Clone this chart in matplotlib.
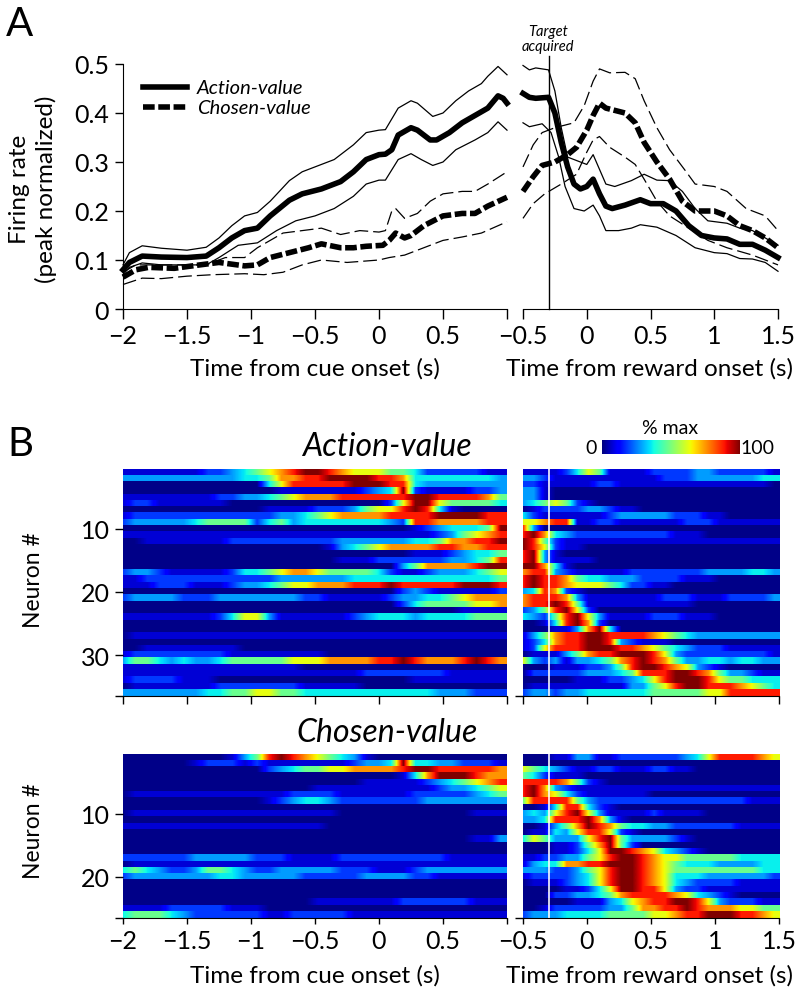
import numpy as np
import matplotlib
matplotlib.use("Agg")
import matplotlib.pyplot as plt
from matplotlib.lines import Line2D

FONT = ['Lato', 'DejaVu Sans']
plt.rcParams['font.family'] = FONT
plt.rcParams['axes.unicode_minus'] = True

# ---------- Panel A data ----------
cue_av_mean_t = [-2,-1.95,-1.85,-1.7,-1.5,-1.35,-1.25,-1.15,-1.05,-.95,-.85,-.7,-.6,-.45,-.3,-.2,-.1,0,.05,.1,.15,.25,.3,.4,.45,.55,.65,.75,.85,.93,.97,1.0]
cue_av_mean = [.08,.095,.108,.106,.105,.108,.125,.145,.16,.165,.19,.222,.235,.245,.26,.28,.305,.315,.316,.325,.355,.37,.365,.345,.345,.36,.38,.395,.41,.435,.43,.42]
cue_av_up_t = [-2,-1.95,-1.85,-1.7,-1.5,-1.35,-1.25,-1.15,-1.05,-.95,-.85,-.7,-.6,-.5,-.35,-.2,-.1,0,.05,.15,.25,.3,.42,.5,.6,.7,.8,.85,.93,1.0]
cue_av_up = [.09,.115,.129,.124,.12,.126,.145,.17,.19,.197,.22,.262,.28,.29,.305,.335,.36,.365,.366,.41,.425,.42,.393,.4,.425,.445,.46,.475,.495,.478]
cue_av_lo_t = [-2,-1.95,-1.85,-1.7,-1.5,-1.35,-1.25,-1.1,-.95,-.8,-.65,-.5,-.35,-.2,-.1,0,.05,.15,.25,.33,.42,.5,.6,.75,.85,.93,1.0]
cue_av_lo = [.07,.085,.094,.09,.09,.09,.105,.13,.135,.16,.18,.19,.205,.23,.255,.263,.263,.305,.317,.305,.293,.3,.325,.345,.36,.382,.365]
cue_cv_mean_t = [-2,-1.9,-1.8,-1.6,-1.4,-1.25,-1.05,-.95,-.85,-.7,-.55,-.45,-.3,-.2,-.1,.03,.08,.13,.2,.25,.35,.5,.65,.75,.85,1.0]
cue_cv_mean = [.065,.08,.085,.083,.09,.095,.088,.09,.105,.115,.125,.133,.125,.125,.128,.13,.14,.155,.145,.15,.17,.19,.195,.195,.21,.228]
cue_cv_up_t = [-2,-1.9,-1.6,-1.35,-1.2,-1.05,-.95,-.85,-.75,-.6,-.45,-.3,-.15,0,.05,.1,.13,.2,.3,.4,.5,.65,.75,.85,1.0]
cue_cv_up = [.075,.09,.09,.09,.105,.105,.125,.14,.155,.16,.165,.152,.16,.157,.16,.2,.205,.185,.195,.22,.235,.24,.24,.255,.28]
cue_cv_lo_t = [-2,-1.85,-1.7,-1.5,-1.3,-1.05,-.9,-.75,-.6,-.45,-.25,0,.08,.2,.35,.5,.65,.8,1.0]
cue_cv_lo = [.05,.063,.062,.067,.07,.072,.07,.075,.09,.1,.095,.1,.105,.11,.125,.14,.147,.155,.178]

rew_av_mean_t = [-.5,-.45,-.4,-.3,-.25,-.2,-.15,-.1,-.05,0,.05,.1,.15,.2,.3,.42,.5,.6,.7,.8,.9,1.0,1.1,1.2,1.3,1.4,1.5]
rew_av_mean = [.44,.432,.43,.432,.4,.34,.29,.255,.245,.25,.265,.235,.21,.205,.212,.223,.215,.215,.2,.17,.15,.145,.143,.132,.132,.12,.105]
rew_av_up_t = [-.5,-.45,-.4,-.3,-.25,-.2,-.15,-.05,0,.05,.1,.15,.22,.35,.45,.55,.65,.75,.85,.95,1.1,1.2,1.3,1.4,1.5]
rew_av_up = [.497,.488,.492,.488,.445,.37,.31,.3,.295,.315,.285,.255,.25,.262,.275,.263,.262,.24,.205,.18,.175,.165,.16,.145,.13]
rew_av_lo_t = [-.5,-.45,-.35,-.28,-.22,-.17,-.1,-.02,.05,.1,.15,.25,.35,.42,.55,.7,.85,1.0,1.1,1.2,1.3,1.4,1.5]
rew_av_lo = [.38,.372,.378,.36,.31,.25,.205,.2,.212,.19,.16,.16,.165,.172,.167,.15,.125,.115,.113,.103,.102,.095,.077]
rew_cv_mean_t = [-.5,-.42,-.35,-.25,-.15,-.08,0,.05,.1,.15,.3,.38,.45,.55,.65,.75,.85,1.0,1.1,1.2,1.3,1.4,1.5]
rew_cv_mean = [.24,.27,.293,.3,.315,.33,.365,.395,.42,.41,.4,.38,.34,.3,.265,.22,.2,.2,.19,.17,.16,.145,.125]
rew_cv_up_t = [-.5,-.42,-.35,-.25,-.1,-.02,.05,.1,.18,.3,.38,.45,.55,.65,.78,.85,1.0,1.1,1.25,1.4,1.5]
rew_cv_up = [.29,.335,.36,.37,.38,.415,.465,.49,.482,.483,.47,.425,.37,.325,.28,.255,.25,.24,.205,.19,.16]
rew_cv_lo_t = [-.5,-.42,-.33,-.2,-.08,0,.05,.1,.18,.3,.38,.45,.55,.65,.8,.95,1.1,1.3,1.5]
rew_cv_lo = [.185,.215,.235,.255,.275,.32,.345,.352,.33,.31,.295,.265,.22,.19,.165,.14,.125,.11,.09]

time_ticks_cue = [-2,-1.5,-1,-.5,0,.5,1]
time_labels_cue = ['\u22122','\u22121.5','\u22121','\u22120.5','0','0.5','']
time_ticks_rew = [-.5,0,.5,1,1.5]
time_labels_rew = ['\u22120.5','0','0.5','1','1.5']
rate_ticks = [0,.1,.2,.3,.4,.5]
rate_labels = ['0','0.1','0.2','0.3','0.4','0.5']
target_time = -0.3

# ---------- Panel B data: each digit is a colour step ----------
O8 = '00000000 '
action_cue = [
'11111112 23456789 98766655 42222211','33333333 33445778 89999887 44444443','00000000 00004688 88899988 43333333',
'00000000 00000111 11112349 21111223','11111111 22334567 77888888 99888875','12211111 10000000 00000026 99655554',
'00000000 00001111 22235668 98410000','12222222 22222334 56777788 88999988','23333345 55524534 44444432 88777788',
O8*3+'12344459','11111111 11111111 11111111 11235678','00111111 12222222 22333333 44577889',
O8*2+'01345677 77887788',O8*3+'11123445','00000000 00000000 00111222 22233458','00000000 00000000 00000003 57777899',
'23321111 12445677 65555421 12333456','11222222 22222333 33344444 44444445','11122211 12334566 77788898 88889998',
O8*2+'00000002 32111112','23333222 33333332 21111123 34456777',O8*2+'00000002 45555667',O8*3+'00001111',
'11111111 24663111 11123444 34444555',O8*4,O8*4,'01111111 11111111 11111111 11111111',O8*4,
'00111111 11000000 00000000 00000000','12222222 21111111 10000000 00000000','35543433 45555566 67777889 87778987',
'11111111 11111110 00000000 00000000','11111111 11111111 11112222 22211111','12222111 00000000 00000000 11111111',
'01111111 22222221 11110000 00000000','33333334 45566554 44444444 44333222']
action_rew = [
'11112465 11112222 33222221','33211111 11111222 33333344','22111112 21111111 11111110','33100000 00000000 00000000',
'33100000 00000000 00000000','34565210 00000000 00000000','01222233 21100000 00000000','42111111 23333322 21100000',
'66788112 21111112 22111111','83000000 00000000 00000000','89743222 22222211 10000000','98521111 11111111 11111111',
'98621100 00000000 00000000','89310000 00000000 00000000','89311110 00000000 00000000','99741000 00000000 00000000',
'78832111 11222222 23333443','89887544 33322221 11000000','89887666 54221100 00000000','34872100 00000000 00000000',
'78887311 11111222 11122223','78898511 11111111 00000000','23589620 00000000 00000000','43258963 11112221 11000000',
'00148972 00000000 00000000','00011379 40000000 00000000','13578899 88887654 33333333','12478899 83211100 00000000',
'12688899 98876543 22211111','01113578 89998632 22222221','63231334 57898753 34434433','00011122 35899876 32100000',
'02222233 34588899 87533211','00000111 22346899 98655444','01111111 11335689 98887654','23323344 44445555 56688888']
chosen_cue = [
'00000000 01358987 65431000 00000000','00000012 22121111 11123349 44332221','00000000 00002345 56677778 99888887',
O8*2+'00000001 47999877',O8*2+'00001111 12345678',O8*2+'11111111 11233456','01111111 11111122 22111111 22222345',
'00000000 00001234 43222222 23333333',O8*4,'01111111 11111111 11000000 00000111',O8*4,'11111111 11111111 10000000 00000000',
O8*4,O8*3+'00000113',O8*4,O8*4,'22222233 33322211 11222222 22211111','01111111 11111111 11111111 11111111',
'45432235 54322333 33222111 23333333','23333333 44333332 22223333 22111111',O8*4,O8*4,O8*4,
O8*2+'11111112 22222111','11112222 21110000 00000000 00000000','45554322 22221122 22211111 11111111']
chosen_rew = [
'00011331 12222223 46888876',O8*3,'65432112 21112211 00000000','54211100 00000000 00000000','88887521 00000000 00000000',
'89732111 11111111 11111111','89764211 11110000 00000000','58888532 22222222 22222111','00148842 10000000 00000000',
'34368963 11112111 10000000','33488897 31000000 00000000','00135798 75443322 22221111','01143688 62100000 00000000',
'46533368 95333321 00000000','00011257 95200000 00000000','00011246 99876432 10000000','11223356 89987665 55554444',
'13447788 99987654 44333344','33322356 89987655 55555544','12222346 89987644 43333332','01112346 89987643 22221111',
'00001124 69988632 21111111','00022334 57888876 43210000','00000111 34678899 86322211','00122222 33577889 87776655',
'23334444 55556678 89998876']
colour_steps = [0.01,.075,.18,.28,.36,.48,.63,.75,.88,1.0]
neuron_ticks = [10,20,30]
neuron_ticks_chosen = [10,20]

W, H = 800, 995
fig = plt.figure(figsize=(W/100, H/100), dpi=100, facecolor='white')

def axpx(l, t, r, b):
    return fig.add_axes([l/W, 1-b/H, (r-l)/W, (b-t)/H])

def tx(x, y, s, **kw):
    kw.setdefault('ha', 'center'); kw.setdefault('va', 'center')
    return fig.text(x/W, 1-y/H, s, **kw)

TICK = 18; LAB = 17.5
def style(ax):
    for s in ('top', 'right'):
        ax.spines[s].set_visible(False)
    ax.patch.set_alpha(0)

# ---------- Panel A ----------
ax1 = axpx(123, 65, 507, 310)
ax2 = axpx(523, 65, 778, 310)
thin_d = (0, (11, 4)); thick_d = (0, (2.1, 0.65))
THICK = 4.0
def traces(ax, av, cv):
    for t, y in av[1:]:
        ax.plot(t, y, color='k', lw=0.9, clip_on=False)
    for t, y in cv[1:]:
        ax.plot(t, y, color='k', lw=0.9, ls=thin_d, clip_on=False)
    ax.plot(*av[0], color='k', lw=THICK, solid_joinstyle='round', clip_on=False)
    ax.plot(*cv[0], color='k', lw=THICK, ls=thick_d, dash_capstyle='butt', clip_on=False)
traces(ax1, [(cue_av_mean_t,cue_av_mean),(cue_av_up_t,cue_av_up),(cue_av_lo_t,cue_av_lo)],
       [(cue_cv_mean_t,cue_cv_mean),(cue_cv_up_t,cue_cv_up),(cue_cv_lo_t,cue_cv_lo)])
traces(ax2, [(rew_av_mean_t,rew_av_mean),(rew_av_up_t,rew_av_up),(rew_av_lo_t,rew_av_lo)],
       [(rew_cv_mean_t,rew_cv_mean),(rew_cv_up_t,rew_cv_up),(rew_cv_lo_t,rew_cv_lo)])
ax1.set_xlim(-2, 1); ax1.set_ylim(0, .5)
ax2.set_xlim(-.5, 1.5); ax2.set_ylim(0, .5)
for ax in (ax1, ax2):
    style(ax)
    ax.tick_params(axis='x', length=7, width=1, labelsize=TICK, pad=4)
    ax.tick_params(axis='y', length=6, width=1, labelsize=TICK, pad=4)
ax1.set_xticks(time_ticks_cue, time_labels_cue)
ax1.set_yticks(rate_ticks, rate_labels)
ax2.set_xticks(time_ticks_rew, time_labels_rew)
ax2.set_yticks([])
ax2.spines['left'].set_visible(False)
ax2.plot([target_time]*2, [0, .516], color='k', lw=1, clip_on=False)

tx(548, 39.5, 'Target\nacquired', fontsize=10.5, style='italic', linespacing=1.15)
tx(315, 369, 'Time from cue onset (s)', fontsize=LAB)
tx(649, 369, 'Time from reward onset (s)', fontsize=LAB)
tx(33, 189, 'Firing rate\n(peak normalized)', fontsize=LAB, rotation=90, linespacing=1.25)
tx(20, 24, 'A', fontsize=29)
tx(20, 445, 'B', fontsize=29)

fig.add_artist(Line2D([143/W, 187/W], [1-88/H]*2, color='k', lw=THICK))
fig.add_artist(Line2D([143/W, 187/W], [1-108/H]*2, color='k', lw=THICK, ls=thick_d, dash_capstyle='butt'))
tx(197, 88, 'Action-value', fontsize=14.5, style='italic', ha='left')
tx(197, 108, 'Chosen-value', fontsize=14.5, style='italic', ha='left')

# ---------- Panel B ----------
def heat(ax, rows, t0, t1):
    for i, r in enumerate(rows):
        vals = [colour_steps[int(c)] for c in r.replace(' ', '')]
        n = len(vals)
        dt = (t1 - t0) / (n - 0.5)
        ax.imshow(np.array([vals]), cmap='jet', vmin=0, vmax=1, aspect='auto',
                  interpolation='bilinear', extent=(t0 - dt/2, t1, i + 1.5, i + 0.5))
    ax.set_xlim(t0, t1); ax.set_ylim(len(rows) + .5, .5)

panels = [
    (axpx(123, 470, 507, 697), action_cue, -2, 1, time_ticks_cue),
    (axpx(523, 470, 779, 697), action_rew, -.5, 1.5, time_ticks_rew),
    (axpx(123, 755, 507, 919), chosen_cue, -2, 1, time_ticks_cue),
    (axpx(523, 755, 779, 919), chosen_rew, -.5, 1.5, time_ticks_rew),
]
for k, (ax, rows, t0, t1, xt) in enumerate(panels):
    heat(ax, rows, t0, t1)
    for s in ('top', 'right', 'left'):
        ax.spines[s].set_visible(False)
    ax.set_xticks(xt)
    ax.tick_params(axis='x', length=5.5 if k < 2 else 4, width=1, labelbottom=False)
    ends = [len(rows) + .5]
    if k % 2 == 0:
        nt = neuron_ticks if k == 0 else neuron_ticks_chosen
        ax.set_yticks(nt + ends, [str(v) for v in nt] + [''])
    else:
        ax.set_yticks(ends, [''])
    ax.tick_params(axis='y', length=5.5, width=1, labelsize=TICK, pad=4)
    if k % 2:
        ax.axvline(target_time, color='white', lw=1.3, alpha=.9)

panels[2][0].tick_params(axis='x', labelbottom=True, labelsize=TICK, pad=4)
panels[2][0].set_xticklabels(time_labels_cue)
panels[3][0].tick_params(axis='x', labelbottom=True, labelsize=TICK, pad=4)
panels[3][0].set_xticklabels(time_labels_rew)

tx(387, 447, 'Action-value', fontsize=23, style='italic')
tx(387, 733, 'Chosen-value', fontsize=23, style='italic')
tx(33, 580, 'Neuron #', fontsize=16.5, rotation=90)
tx(33, 831, 'Neuron #', fontsize=16.5, rotation=90)
tx(315, 976, 'Time from cue onset (s)', fontsize=LAB)
tx(649, 976, 'Time from reward onset (s)', fontsize=LAB)

cax = axpx(602, 441, 740, 455)
cax.imshow(np.array([np.linspace(0, 1, 256)]), cmap='jet', aspect='auto', extent=(0, 100, 0, 1))
cax.set_axis_off()
tx(591, 449, '0', fontsize=14)
tx(757, 449, '100', fontsize=14)
tx(670, 428, '% max', fontsize=14)

fig.savefig('out.png', dpi=100, facecolor='white')
